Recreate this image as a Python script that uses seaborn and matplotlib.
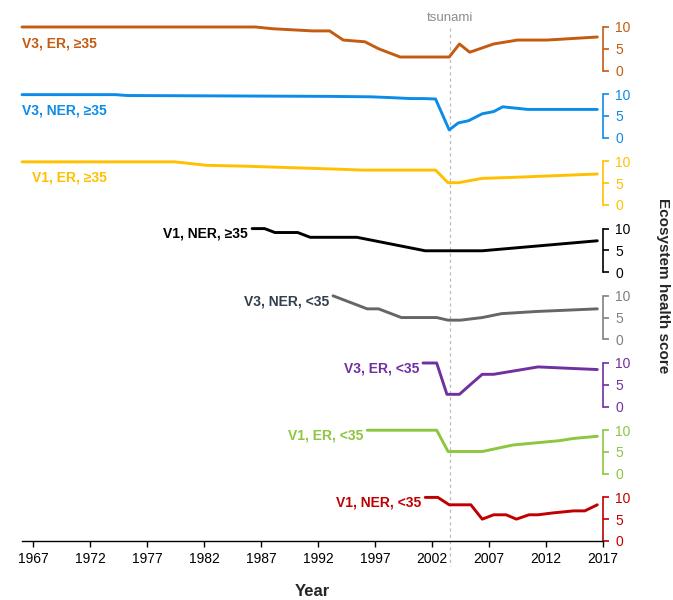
import matplotlib
matplotlib.use("Agg")
import matplotlib.pyplot as plt
import matplotlib.transforms as mtransforms
import pandas as pd
import seaborn as sns

sns.set_style("white")
plt.rcParams["font.family"] = ["Liberation Sans", "DejaVu Sans"]

# ---- data: ecosystem health score per group over time ----
series_names = ["V3, ER, ≥35", "V3, NER, ≥35", "V1, ER, ≥35", "V1, NER, ≥35",
                "V3, NER, <35", "V3, ER, <35", "V1, ER, <35", "V1, NER, <35"]

years_v3_er_ge35 = [1966, 1986.5, 1988, 1991.5, 1993, 1994.2, 1996.1, 1997.3, 1999.2,
                    2003.5, 2004.4, 2005.3, 2007.4, 2009.5, 2012.1, 2016.5]
score_v3_er_ge35 = [10, 10, 9.6, 9.1, 9.1, 7.0, 6.6, 5.0, 3.1,
                    3.1, 6.1, 4.2, 6.1, 7.0, 7.0, 7.7]

years_v3_ner_ge35 = [1966, 1974.2, 1975.2, 1993.0, 1996.6, 1998.5, 2000.1, 2001.2, 2002.3,
                     2003.5, 2004.3, 2005.2, 2006.4, 2007.4, 2008.2, 2010.4, 2016.5]
score_v3_ner_ge35 = [9.9, 9.9, 9.7, 9.5, 9.4, 9.2, 9.0, 9.0, 8.9,
                     1.8, 3.4, 3.9, 5.5, 6.0, 7.1, 6.5, 6.5]

years_v1_er_ge35 = [1966, 1979.4, 1982.2, 1985.6, 1993.9, 1995.9, 2002.3, 2003.4,
                    2004.3, 2006.4, 2008.8, 2016.5]
score_v1_er_ge35 = [9.9, 9.9, 9.1, 8.9, 8.2, 8.0, 8.0, 5.1,
                    5.1, 6.1, 6.3, 7.1]

years_v1_ner_ge35 = [1986.2, 1987.3, 1988.2, 1990.2, 1991.3, 1995.4, 2001.4, 2006.4, 2016.5]
score_v1_ner_ge35 = [10, 10, 9.1, 9.1, 8.0, 8.0, 4.9, 4.9, 7.2]

years_v3_ner_lt35 = [1993.3, 1996.3, 1997.3, 1999.3, 2002.4, 2003.4, 2004.5, 2006.4,
                     2008.1, 2011.2, 2016.5]
score_v3_ner_lt35 = [10, 7.0, 7.0, 5.0, 5.0, 4.4, 4.4, 5.0,
                     5.9, 6.4, 7.0]

years_v3_er_lt35 = [2001.2, 2002.4, 2003.3, 2004.4, 2005.3, 2006.4, 2007.4, 2011.3,
                    2014.7, 2016.5]
score_v3_er_lt35 = [10, 10, 2.8, 2.8, 4.9, 7.4, 7.4, 9.1, 8.7, 8.5]

years_v1_er_lt35 = [1996.3, 2002.4, 2003.4, 2006.4, 2009.1, 2013.2, 2014.4, 2016.5]
score_v1_er_lt35 = [10, 10, 5.1, 5.1, 6.6, 7.6, 8.1, 8.6]

years_v1_ner_lt35 = [2001.4, 2002.5, 2003.5, 2005.4, 2006.4, 2007.4, 2008.5, 2009.4,
                     2010.5, 2011.3, 2012.5, 2014.4, 2015.4, 2016.5]
score_v1_ner_lt35 = [10, 10, 8.3, 8.3, 5.0, 6.0, 6.0, 5.0,
                     6.0, 6.0, 6.4, 6.9, 6.9, 8.3]

series_years = [years_v3_er_ge35, years_v3_ner_ge35, years_v1_er_ge35, years_v1_ner_ge35,
                years_v3_ner_lt35, years_v3_er_lt35, years_v1_er_lt35, years_v1_ner_lt35]
series_scores = [score_v3_er_ge35, score_v3_ner_ge35, score_v1_er_ge35, score_v1_ner_ge35,
                 score_v3_ner_lt35, score_v3_er_lt35, score_v1_er_lt35, score_v1_ner_lt35]

x_ticks = [1967, 1972, 1977, 1982, 1987, 1992, 1997, 2002, 2007, 2012, 2017]
y_ticks = [0, 5, 10]
tsunami_year = 2003.55

line_colors = ["#C55A11", "#0C8CE9", "#FFC000", "#000000",
               "#666666", "#7030A0", "#8DC63F", "#C00000"]
label_colors = ["#C55A11", "#0C8CE9", "#FFC000", "#000000",
                "#323F4F", "#7030A0", "#8DC63F", "#C00000"]
tick_colors = ["#C55A11", "#0C8CE9", "#FFC000", "#000000",
               "#808080", "#7030A0", "#8DC63F", "#C00000"]
# label anchored at the left edge (below the line) for long series
left_anchored = [True, True, True, False, False, False, False, False]

frames = []
for name, yrs, sc in zip(series_names, series_years, series_scores):
    frames.append(pd.DataFrame({"group": name, "year": yrs, "score": sc}))
df = pd.concat(frames, ignore_index=True)

# ---- layout ----
W, H = 673, 600
fig = plt.figure(figsize=(W / 100, H / 100), dpi=100)
left_px, right_px = 22, 603
panel_top0, panel_step, panel_h = 27, 67.2, 43.5

axes = []
for i, name in enumerate(series_names):
    top = panel_top0 + i * panel_step
    ax = fig.add_axes([left_px / W, 1 - (top + panel_h) / H,
                       (right_px - left_px) / W, panel_h / H])
    axes.append(ax)
    sub = df[df["group"] == name]
    sns.lineplot(data=sub, x="year", y="score", ax=ax, color=line_colors[i],
                 linewidth=2.1, legend=False, estimator=None, sort=False)
    for ln in ax.lines:
        ln.set_clip_on(False)
        ln.set_solid_joinstyle("round")
    ax.set_xlim(1966, 2017)
    ax.set_ylim(0, 10)
    ax.set_xlabel("")
    ax.set_ylabel("")
    ax.patch.set_alpha(0)
    for side in ["left", "top", "bottom"]:
        ax.spines[side].set_visible(False)
    ax.spines["right"].set_color(tick_colors[i])
    ax.spines["right"].set_linewidth(1.2)
    ax.yaxis.tick_right()
    ax.set_yticks(y_ticks)
    ax.set_yticklabels([str(t) for t in y_ticks])
    ax.tick_params(axis="y", which="both", direction="out", length=4, width=1.2,
                   colors=tick_colors[i], labelsize=10, pad=5, right=True, left=False)
    ax.set_xticks([])

    y0, s0 = series_years[i][0], series_scores[i][0]
    if left_anchored[i]:
        ax.text(1966.0 if i < 2 else 1966.9, 6.3, name, ha="left", va="center",
                fontsize=10, fontweight="bold", color=label_colors[i])
    else:
        ax.text(y0 - 0.35, s0 - 1.2, name, ha="right", va="center",
                fontsize=10, fontweight="bold", color=label_colors[i])

# bottom panel carries the year axis
bax = axes[-1]
bax.spines["bottom"].set_visible(True)
bax.spines["bottom"].set_color("black")
bax.spines["bottom"].set_linewidth(1.0)
bax.set_xticks(x_ticks)
bax.set_xticklabels([str(t) for t in x_ticks])
bax.tick_params(axis="x", direction="out", length=4, width=1.0, colors="black",
                labelsize=10, pad=4, bottom=True)
bax.set_xlabel("Year", fontsize=12, fontweight="bold", labelpad=13)

# tsunami marker across all panels
trans = mtransforms.blended_transform_factory(bax.transData, fig.transFigure)
fig.add_artist(plt.Line2D([tsunami_year, tsunami_year], [1 - 28 / H, 1 - 566 / H],
                          transform=trans, color="#BBBBBB", linewidth=0.9,
                          linestyle=(0, (2.5, 2.5)), zorder=0))
fig.text(tsunami_year, 1 - 18 / H, "tsunami", transform=trans, ha="center",
         va="center", fontsize=9.5, color="#8C8C8C")

fig.text(663 / W, 1 - 286 / H, "Ecosystem health score", rotation=-90,
         ha="center", va="center", fontsize=11, fontweight="bold")

fig.savefig("out.png", dpi=100)
